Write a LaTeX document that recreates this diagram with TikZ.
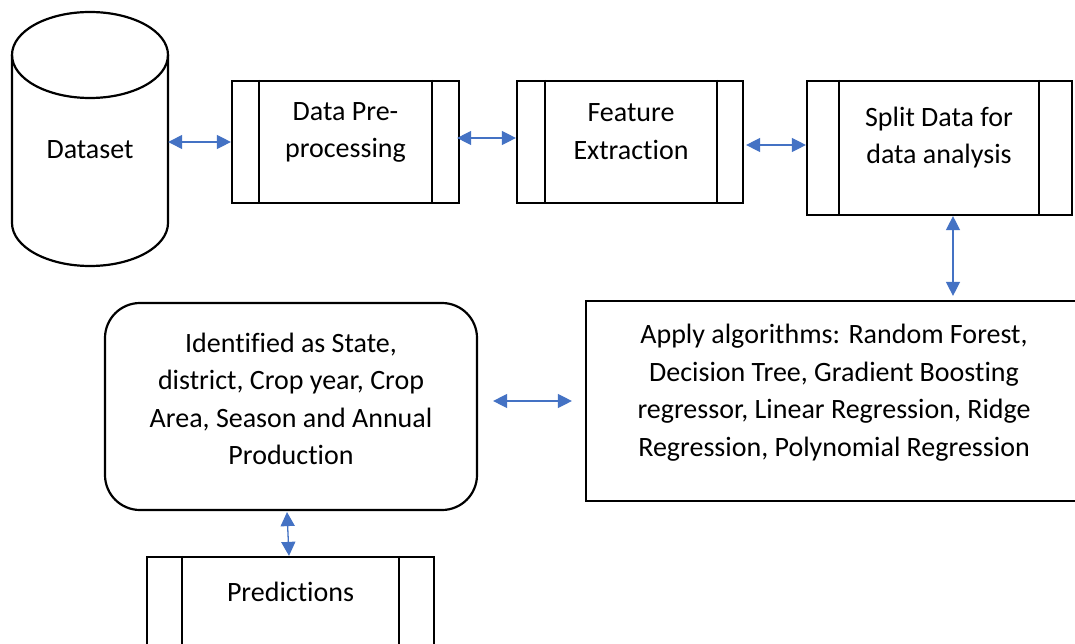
\documentclass[tikz,border=0pt]{standalone}
\usepackage{fontspec}
\setmainfont[Ligatures=CommonOff]{Carlito}
\usetikzlibrary{arrows.meta}
\definecolor{arrblue}{HTML}{4472C4}
\begin{document}
\begin{tikzpicture}[x=1pt,y=-1pt,
  box/.style={draw, line width=2.2pt, inner sep=0pt, fill=white},
  inl/.style={line width=1.6pt},
  txt/.style={align=center, font=\fontsize{28}{37.5}\selectfont, inner sep=0pt},
  arr/.style={arrblue, line width=1.3pt, {Triangle[length=14pt,width=14pt]}-{Triangle[length=14pt,width=14pt]}}]
\useasboundingbox[fill=white] (0,0) rectangle (1075,644);
% cylinder
\draw[line width=2.2pt, fill=white] (12,55) -- (12,223) arc[start angle=180, end angle=0, x radius=78, y radius=43] -- (168,55);
\draw[line width=2.2pt] (90,55) ellipse[x radius=78, y radius=43];
\node[txt, minimum width=156pt] (ds) at (90,150) {Dataset};
% boxes
\node[box, minimum width=227pt, minimum height=122pt] (pre) at (345.5,142) {};
\node[box, minimum width=226pt, minimum height=122pt] (feat) at (630,142) {};
\node[box, minimum width=265pt, minimum height=134pt] (split) at (939.5,148) {};
\node[box, minimum width=497pt, minimum height=200pt] (apply) at (834.5,401) {};
\node[box, rounded corners=35pt, minimum width=372pt, minimum height=207pt] (ident) at (291,406.5) {};
\node[box, minimum width=287pt, minimum height=122pt] (pred) at (290.5,618) {};
% inner lines
\draw[inl] ([xshift=28pt]pre.north west) -- ([xshift=28pt]pre.south west);
\draw[inl] ([xshift=-28pt]pre.north east) -- ([xshift=-28pt]pre.south east);
\draw[inl] ([xshift=29pt]feat.north west) -- ([xshift=29pt]feat.south west);
\draw[inl] ([xshift=-27pt]feat.north east) -- ([xshift=-27pt]feat.south east);
\draw[inl] ([xshift=33pt]split.north west) -- ([xshift=33pt]split.south west);
\draw[inl] ([xshift=-34pt]split.north east) -- ([xshift=-34pt]split.south east);
\draw[inl] ([xshift=36pt]pred.north west) -- ([xshift=36pt]pred.south west);
\draw[inl] ([xshift=-36pt]pred.north east) -- ([xshift=-36pt]pred.south east);
% texts
\node[txt] (tpre) at (345.5,132.5) {Data Pre-\\processing};
\node[txt] (tfeat) at (631,131.5) {Feature\\Extraction};
\node[txt] (tsplit) at (939,137.5) {Split Data for\\data analysis};
\node[txt] (tapply) at (834,392.5) {Apply algorithms: Random Forest,\\Decision Tree, Gradient Boosting\\regressor, Linear Regression, Ridge\\Regression, Polynomial Regression};
\node[txt] (tident) at (291,399) {Identified as State,\\district, Crop year, Crop\\Area, Season and Annual\\Production};
\node[txt] (tpred) at (290.5,592) {Predictions};
% arrows
\draw[arr] ([yshift=8pt]ds.east) -- (pre.west);
\draw[arr] ([xshift=-3pt,yshift=4pt]pre.east) -- ([yshift=4pt]feat.west);
\draw[arr] ([xshift=2pt,yshift=-3pt]feat.east) -- ([yshift=3pt]split.west);
\draw[arr] ([xshift=13.5pt]split.south) -- ([xshift=118.5pt,yshift=4pt]apply.north);
\draw[arr] ([xshift=15pt,yshift=5.5pt]ident.east) -- ([xshift=-13pt]apply.west);
\draw[arr] ([xshift=-4pt,yshift=-1pt]ident.south) -- ([xshift=-1.5pt]pred.north);
\end{tikzpicture}
\end{document}
